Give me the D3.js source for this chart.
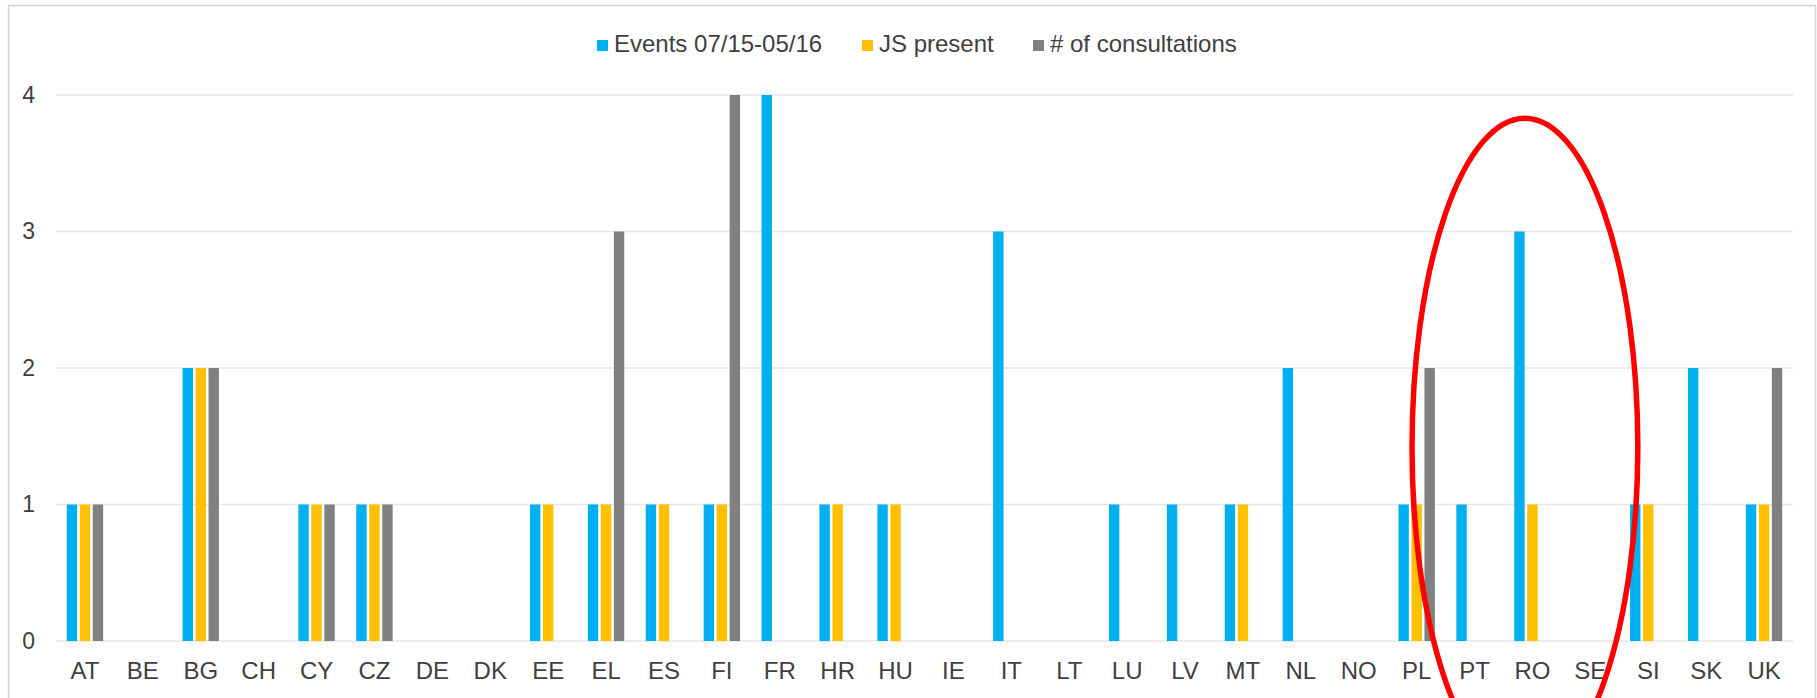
<!DOCTYPE html>
<html>
<head>
<meta charset="utf-8">
<script src="https://cdn.jsdelivr.net/npm/d3@7"></script>
<style>
    body { margin: 0; background: #fff; }
    text { font-family: "Liberation Sans", Arial, sans-serif; }
</style>
</head>
<body>
<svg id="chart" width="1817" height="698"></svg>
<script>
// data
const countries = ['AT', 'BE', 'BG', 'CH', 'CY', 'CZ', 'DE', 'DK', 'EE', 'EL', 'ES', 'FI', 'FR', 'HR', 'HU',
    'IE', 'IT', 'LT', 'LU', 'LV', 'MT', 'NL', 'NO', 'PL', 'PT', 'RO', 'SE', 'SI', 'SK', 'UK'];
const seriesNames = ['Events 07/15-05/16', 'JS present', '# of consultations'];
const events = [1, 0, 2, 0, 1, 1, 0, 0, 1, 1, 1, 1, 4, 1, 1, 0, 3, 0, 1, 1, 1, 2, 0, 1, 1, 3, 0, 1, 2, 1];
const jsPresent = [1, 0, 2, 0, 1, 1, 0, 0, 1, 1, 1, 1, 0, 1, 1, 0, 0, 0, 0, 0, 1, 0, 0, 1, 0, 1, 0, 1, 0, 1];
const consultations = [1, 0, 2, 0, 1, 1, 0, 0, 0, 3, 0, 4, 0, 0, 0, 0, 0, 0, 0, 0, 0, 0, 0, 2, 0, 0, 0, 0, 0, 2];
const yTicks = [0, 1, 2, 3, 4];

// Params
const width = 1817;
const height = 698;
const margin = { top: 95, right: 24, bottom: 57, left: 56 };
const colors = ['#00b0f0', '#ffc000', '#808080'];
const textColor = '#404040';
const gridColor = '#e6e6e6';
// legend items start positions (square left edge)
const legendStarts = [597, 862, 1033];

const seriesValues = [events, jsPresent, consultations];

const svg = d3.select('#chart');

// outer border of the chart area
svg.append('rect')
    .attr('x', 8.5)
    .attr('y', 5.5)
    .attr('width', width - 10)
    .attr('height', height + 20)
    .attr('fill', 'none')
    .attr('stroke', '#d4d4d4')
    .attr('stroke-width', 1.5);

const x0 = d3.scaleBand()
    .domain(countries)
    .range([margin.left, width - margin.right]);

// cluster of 3 bars, centred on each category
const x1 = d3.scaleBand()
    .domain(seriesNames)
    .range([-19.5, 19.5])
    .paddingInner(0.2)
    .paddingOuter(0.1);

const y = d3.scaleLinear()
    .domain([0, 4])
    .range([height - margin.bottom, margin.top]);

// grid
const gGrid = svg.append('g');
gGrid.selectAll('line')
    .data(yTicks)
    .enter()
    .append('line')
    .attr('x1', margin.left)
    .attr('x2', width - margin.right)
    .attr('y1', d => y(d))
    .attr('y2', d => y(d))
    .attr('stroke', gridColor)
    .attr('stroke-width', 1.5);

// y axis labels
const yAxis = d3.axisLeft(y).tickValues(yTicks).tickSize(0).tickPadding(21).tickFormat(d3.format('d'));
svg.append('g')
    .attr('transform', 'translate(' + margin.left + ',0)')
    .call(yAxis)
    .call(g => g.select('.domain').remove())
    .call(g => g.selectAll('text')
        .attr('font-size', 23)
        .attr('font-family', '"Liberation Sans", Arial, sans-serif')
        .attr('fill', textColor));

// x axis labels
const xAxis = d3.axisBottom(x0).tickSize(0).tickPadding(21);
svg.append('g')
    .attr('transform', 'translate(0,' + y(0) + ')')
    .call(xAxis)
    .call(g => g.select('.domain').remove())
    .call(g => g.selectAll('text')
        .attr('font-size', 24)
        .attr('font-family', '"Liberation Sans", Arial, sans-serif')
        .attr('fill', textColor));

// bars
const rows = countries.map((c, i) => ({
    country: c,
    values: seriesNames.map((s, k) => ({ serie: s, k: k, value: seriesValues[k][i] }))
}));

const gBars = svg.append('g');
gBars.selectAll('g')
    .data(rows)
    .enter()
    .append('g')
    .attr('transform', d => 'translate(' + (x0(d.country) + x0.bandwidth() / 2) + ',0)')
    .selectAll('rect')
    .data(d => d.values.filter(v => v.value > 0))
    .enter()
    .append('rect')
    .attr('x', d => x1(d.serie))
    .attr('width', x1.bandwidth())
    .attr('y', d => y(d.value))
    .attr('height', d => y(0) - y(d.value))
    .attr('fill', d => colors[d.k]);

// legend
const gLegend = svg.append('g').attr('transform', 'translate(0,52)');
seriesNames.forEach((name, k) => {
    gLegend.append('rect')
        .attr('x', legendStarts[k])
        .attr('y', -12)
        .attr('width', 11)
        .attr('height', 11)
        .attr('fill', colors[k]);
    gLegend.append('text')
        .attr('x', legendStarts[k] + 17)
        .attr('y', 0)
        .attr('font-size', 24)
        .attr('fill', textColor)
        .text(name);
});

// red annotation ellipse around RO
const roCenter = x0('RO') + x0.bandwidth() / 2;
svg.append('ellipse')
    .attr('cx', roCenter - 0.13 * x0.step())
    .attr('cy', y(1.42))
    .attr('rx', 1.95 * x0.step())
    .attr('ry', y(0) - y(2.41))
    .attr('fill', 'none')
    .attr('stroke', '#ff0000')
    .attr('stroke-width', 5.5);
</script>
</body>
</html>
